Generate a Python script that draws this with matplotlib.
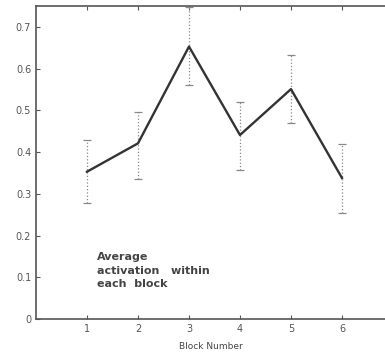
import numpy as np
import matplotlib
matplotlib.use("Agg")
import matplotlib.pyplot as plt

blocks = [1, 2, 3, 4, 5, 6]
activation = [0.353, 0.421, 0.653, 0.441, 0.551, 0.338]
err_low = [0.277, 0.335, 0.561, 0.356, 0.469, 0.253]
err_high = [0.428, 0.497, 0.747, 0.520, 0.633, 0.420]

yerr = [np.array(activation) - np.array(err_low), np.array(err_high) - np.array(activation)]

fig = plt.figure(figsize=(3.85, 3.6), dpi=100)
ax = fig.add_axes([0.0935, 0.114, 0.906, 0.869])

eb = ax.errorbar(blocks, activation, yerr=yerr, fmt='none', ecolor='#888888',
                 elinewidth=0.9, capsize=3, capthick=0.9)
eb[2][0].set_linestyle(':')
ax.plot(blocks, activation, color='#333333', linewidth=1.7)

ax.set_xlim(0, 6.84)
ax.set_ylim(0, 0.75)
ax.set_xticks(blocks)
ax.set_yticks([0, 0.1, 0.2, 0.3, 0.4, 0.5, 0.6, 0.7])
ax.set_yticklabels(['0', '0.1', '0.2', '0.3', '0.4', '0.5', '0.6', '0.7'])
ax.tick_params(direction='in', top=True, labelsize=7, colors='#555555', length=3)
ax.spines['right'].set_visible(False)
for s in ['left', 'bottom', 'top']:
    ax.spines[s].set_color('#555555')
    ax.spines[s].set_linewidth(1.2)

ax.set_xlabel('Block Number', fontsize=6.5, color='#444444', labelpad=6)

ax.text(1.2, 0.16, 'Average\nactivation   within\neach  block', fontsize=8,
        fontweight='bold', color='#444444', va='top', ha='left', linespacing=1.45)

fig.savefig('out.png', dpi=100)
